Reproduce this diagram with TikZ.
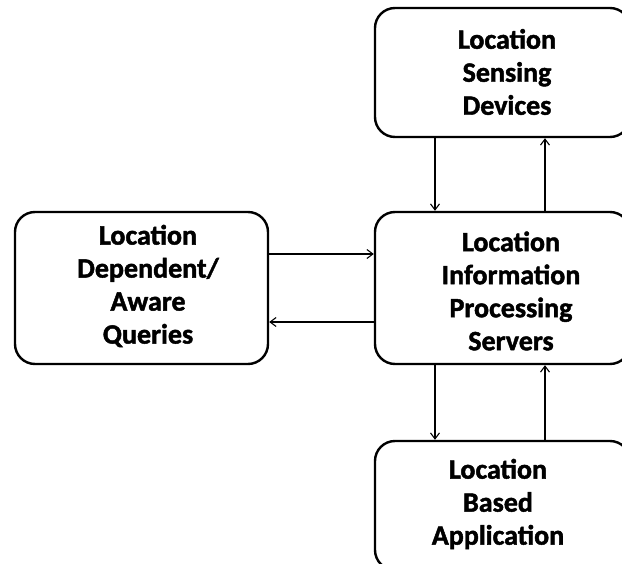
\documentclass[tikz,border=0pt]{standalone}
\usepackage{fontspec}
\setmainfont{Carlito}[BoldFeatures={FakeBold=1.6}]
\usetikzlibrary{arrows.meta}
\begin{document}
\begin{tikzpicture}[x=1pt,y=-1pt,
  box/.style={draw=black,line width=2.4pt,rounded corners=20pt,minimum width=255pt,inner sep=0pt},
  lbl/.style={align=center,font=\fontsize{28}{33}\selectfont\bfseries},
  arr/.style={line width=1.1pt,-{Straight Barb[length=6pt,width=9pt,line width=1.1pt]}}]
\useasboundingbox (0,0) rectangle (622,564);
\clip (0,0) rectangle (622,564);
\fill[white] (0,0) rectangle (622,564);
\node[box,minimum height=129pt] (top) at (502.5,72.5) {};
\node[box,minimum height=152pt] (mid) at (502.5,288) {};
\node[box,minimum height=152pt,minimum width=253pt] (left) at (141.5,288) {};
\node[box,minimum height=129pt] (bot) at (502.5,505.5) {};
\node[lbl] (ttop) at (507,72) {Location\\Sensing\\Devices};
\node[lbl] (tmid) at (511,291) {Location\\Information\\Processing\\Servers};
\node[lbl] (tleft) at (148,286) {Location\\Dependent/\\Aware\\Queries};
\node[lbl] (tbot) at (498,504) {Location\\Based\\Application};
\coordinate (cl) at (435,0);
\coordinate (cr) at (545,0);
\coordinate (hu) at (0,254);
\coordinate (hl) at (0,322);
\draw[arr] (top.south -| cl) -- (mid.north -| cl);
\draw[arr] (mid.north -| cr) -- (top.south -| cr);
\draw[arr] (left.east |- hu) -- (mid.west |- hu);
\draw[arr] (mid.west |- hl) -- (left.east |- hl);
\draw[arr] (mid.south -| cl) -- (bot.north -| cl);
\draw[arr] (bot.north -| cr) -- (mid.south -| cr);
\end{tikzpicture}
\end{document}
